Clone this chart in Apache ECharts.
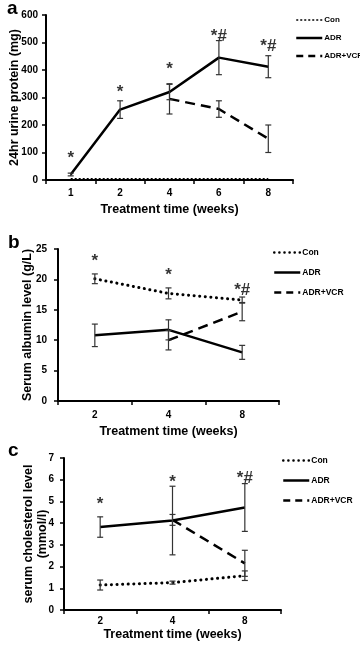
<!DOCTYPE html>
<html><head><meta charset="utf-8">
<script src="https://cdn.jsdelivr.net/npm/echarts@6/dist/echarts.min.js"></script>
<style>html,body{margin:0;padding:0;background:#fff}#c{width:360px;height:646px}</style>
</head><body><div id="c"></div>
<script>
// ---- Panel a: 24hr urine protein ----
const weeksA = ['1','2','4','6','8'];
const conA = [5,5,5,5,5];
const adrA = [20,256,320,445,412];
const adrErrA = [5,32,28,62,40];
const vcrA = [null,null,295,258,150];
const vcrErrA = [null,null,55,30,50];
const notesA = ['*','*','*','*#','*#'];
const noteYA = [90,330,415,533,497];

// ---- Panel b: serum albumin ----
const weeksB = ['2','4','8'];
const conB = [20.1,17.7,16.6];
const conErrB = [0.8,0.9,0.5];
const adrB = [10.8,11.7,8.0];
const adrErrB = [1.85,1.65,1.15];
const vcrB = [null,10.0,14.7];
const vcrErrB = [null,1.6,1.5];
const notesB = ['*','*','*#'];
const noteYB = [23.5,21.1,18.7];

// ---- Panel c: serum cholesterol ----
const weeksC = ['2','4','8'];
const conC = [1.15,1.26,1.58];
const conErrC = [0.23,0.07,0.22];
const adrC = [3.82,4.12,4.72];
const adrErrC = [0.47,1.58,1.1];
const vcrC = [null,4.15,2.15];
const vcrErrC = [null,0.25,0.6];
const notesC = ['*','*','*#'];
const noteYC = [5.0,6.0,6.2];

const legendNames = ['Con','ADR','ADR+VCR'];
const FONT = 'Liberation Sans';

function errSeries(idx, vals, errs){
  const data = [];
  vals.forEach((v,i)=>{ if(v!=null && errs[i]!=null) data.push([i, v-errs[i], v+errs[i]]); });
  return {type:'custom', xAxisIndex:idx, yAxisIndex:idx, silent:true, z:3, animation:false,
    renderItem(params, api){
      const x = api.value(0);
      const lo = api.coord([x, api.value(1)]);
      const hi = api.coord([x, api.value(2)]);
      const w = 3;
      const st = {stroke:'#333', lineWidth:1.2};
      return {type:'group', children:[
        {type:'line', shape:{x1:lo[0],y1:lo[1],x2:hi[0],y2:hi[1]}, style:st},
        {type:'line', shape:{x1:lo[0]-w,y1:lo[1],x2:lo[0]+w,y2:lo[1]}, style:st},
        {type:'line', shape:{x1:hi[0]-w,y1:hi[1],x2:hi[0]+w,y2:hi[1]}, style:st}
      ]};
    },
    encode:{x:0, y:[1,2]},
    data};
}
function lineS(idx, name, data, type, width, cap){
  return {type:'line', name, xAxisIndex:idx, yAxisIndex:idx, data, symbol:'none', animation:false,
    lineStyle:{color:'#000', width, type, cap: cap||'butt'}, itemStyle:{color:'#000'}, z:2};
}
function noteS(idx, labels, ys){
  return {type:'scatter', xAxisIndex:idx, yAxisIndex:idx, symbolSize:1, silent:true, animation:false,
    itemStyle:{color:'rgba(0,0,0,0)'},
    label:{show:true, position:'inside', color:'#000', fontSize:17, fontWeight:'bold', fontFamily:FONT, offset:[0,3]},
    data: labels.map((t,i)=>({value:[i, ys[i]], label:{formatter:t}}))};
}
function xAx(idx, cats, name, gap, margin){
  return {type:'category', gridIndex:idx, data:cats, boundaryGap:true,
    axisLine:{lineStyle:{color:'#000', width:2}},
    axisTick:{show:true, inside:false, length:4, lineStyle:{color:'#000', width:1.5}},
    axisLabel:{color:'#000', fontSize:10, fontWeight:'bold', fontFamily:FONT, margin},
    splitLine:{show:false},
    name, nameLocation:'middle', nameGap:gap,
    nameTextStyle:{color:'#000', fontSize:12.5, fontWeight:'bold', fontFamily:FONT}};
}
function yAx(idx, max, interval, name, gap, margin){
  return {type:'value', gridIndex:idx, min:0, max, interval,
    axisLine:{show:true, lineStyle:{color:'#000', width:2}},
    axisTick:{show:true, inside:false, length:4, lineStyle:{color:'#000', width:1.5}},
    axisLabel:{color:'#000', fontSize:10, fontWeight:'bold', fontFamily:FONT, margin},
    splitLine:{show:false},
    name, nameLocation:'middle', nameGap:gap, nameMoveOverlap:false,
    nameTextStyle:{color:'#000', fontSize:12.5, fontWeight:'bold', fontFamily:FONT, lineHeight:14}};
}
function legend(left, top, gap, fs, conDash, conW, conCap){
  const styles = [
    {type:conDash, width:conW, cap:conCap, color:'#000'},
    {type:'solid', width:2.5, color:'#000'},
    {type:[7,5], width:2.5, color:'#000'}
  ];
  return {orient:'vertical', left, top, itemWidth:26, itemHeight:8, itemGap:gap,
    data:legendNames.map((n,i)=>({name:n, lineStyle:styles[i], itemStyle:{color:'rgba(0,0,0,0)', borderWidth:0}})),
    selectedMode:false,
    itemStyle:{color:'rgba(0,0,0,0)', borderWidth:0},
    textStyle:{color:'#000', fontSize:fs, fontWeight:'bold', fontFamily:FONT, padding:[0,0,0,-3]}};
}

const option = {
  animation:false,
  backgroundColor:'#fff',
  title:[
    {text:'a', left:2, top:-6, textStyle:{fontSize:19, fontWeight:'bold', fontFamily:FONT, color:'#000'}},
    {text:'b', left:3, top:228, textStyle:{fontSize:19, fontWeight:'bold', fontFamily:FONT, color:'#000'}},
    {text:'c', left:3, top:436, textStyle:{fontSize:19, fontWeight:'bold', fontFamily:FONT, color:'#000'}}
  ],
  legend:[
    legend(290, 11, 10, 8, [2,2], 1.5, 'butt'),
    legend(268, 243, 11, 8.5, [0.1,5], 2.5, 'round'),
    legend(277, 451, 11, 8.5, [0.1,5], 2.5, 'round')
  ],
  grid:[
    {left:43, top:15, width:250, height:165},
    {left:58, top:249, width:221, height:152},
    {left:64, top:458, width:217, height:152}
  ],
  xAxis:[
    xAx(0, weeksA, 'Treatment time (weeks)', 23, 8),
    xAx(1, weeksB, 'Treatment time (weeks)', 24, 9),
    xAx(2, weeksC, 'Treatment time (weeks)', 18, 6)
  ],
  yAxis:[
    yAx(0, 600, 100, '24hr urine protein (mg)', 24, 8),
    yAx(1, 25, 5, 'Serum albumin level (g/L)', 23, 11),
    yAx(2, 7, 1, 'serum cholesterol level\n(mmol/l)', 14, 10)
  ],
  series:[
    lineS(0,'Con',conA,[2,2],1.5),
    lineS(0,'ADR',adrA,'solid',2.5),
    lineS(0,'ADR+VCR',vcrA,[10,6],2.5),
    errSeries(0, adrA, adrErrA),
    errSeries(0, vcrA, vcrErrA),
    noteS(0, notesA, noteYA),

    lineS(1,'Con',conB,[0.1,5.5],3,'round'),
    lineS(1,'ADR',adrB,'solid',2.5),
    lineS(1,'ADR+VCR',vcrB,[10,6],2.5),
    errSeries(1, conB, conErrB),
    errSeries(1, adrB, adrErrB),
    errSeries(1, vcrB, vcrErrB),
    noteS(1, notesB, noteYB),

    lineS(2,'Con',conC,[0.1,5.5],3,'round'),
    lineS(2,'ADR',adrC,'solid',2.5),
    lineS(2,'ADR+VCR',vcrC,[10,6],2.5),
    errSeries(2, conC, conErrC),
    errSeries(2, adrC, adrErrC),
    errSeries(2, vcrC, vcrErrC),
    noteS(2, notesC, noteYC)
  ]
};
const chart = echarts.init(document.getElementById('c'), null, {renderer:'canvas'});
chart.setOption(option);
</script>
</body></html>
